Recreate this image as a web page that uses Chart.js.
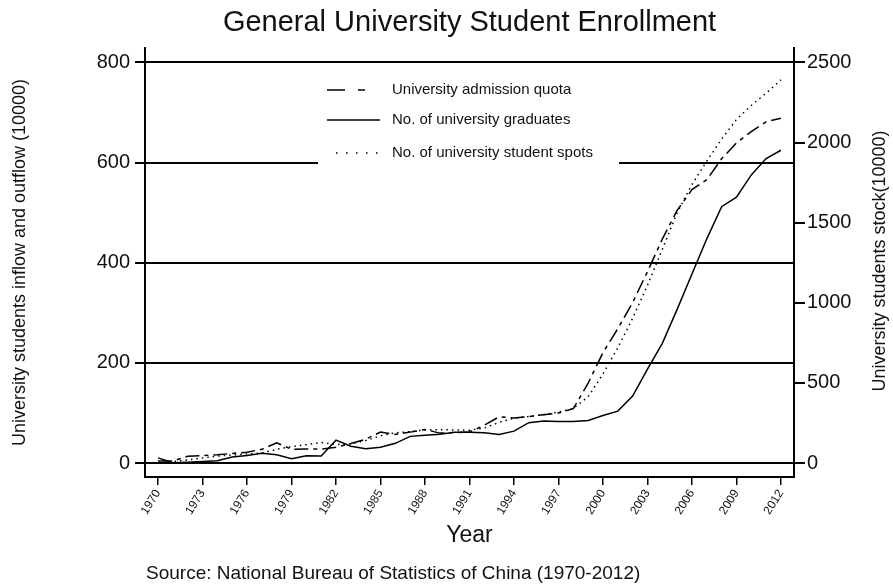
<!DOCTYPE html>
<html>
<head>
<meta charset="utf-8">
<script src="https://cdn.jsdelivr.net/npm/chart.js@4"></script>
<style>
  html, body { margin: 0; padding: 0; background: #fff; }
  #wrap { width: 893px; height: 584px; }
</style>
</head>
<body>
<div id="wrap"><canvas id="myChart" width="893" height="584"></canvas></div>
<script>
// years and values (10000 persons)
const years = [1970, 1971, 1972, 1973, 1974, 1975, 1976, 1977, 1978, 1979,
  1980, 1981, 1982, 1983, 1984, 1985, 1986, 1987, 1988, 1989,
  1990, 1991, 1992, 1993, 1994, 1995, 1996, 1997, 1998, 1999,
  2000, 2001, 2002, 2003, 2004, 2005, 2006, 2007, 2008, 2009,
  2010, 2011, 2012];
const admissionQuota = [4.2, 4.2, 13.4, 15.0, 16.5, 19.1, 21.7, 27.3, 40.2, 27.5,
  28.1, 27.9, 31.5, 39.1, 47.5, 61.9, 57.2, 61.7, 67.0, 59.7,
  60.9, 62.0, 75.4, 92.4, 90.0, 92.6, 96.6, 100.0, 108.4, 159.7,
  220.6, 268.3, 320.5, 382.2, 447.3, 504.5, 546.1, 565.9, 607.7, 639.5,
  661.8, 681.5, 688.8];
const graduates = [10.3, 0.6, 1.7, 3.0, 4.3, 11.9, 14.9, 19.4, 16.5, 8.5,
  14.7, 14.0, 45.7, 33.5, 28.7, 31.6, 39.3, 53.2, 55.3, 57.6,
  61.4, 61.4, 60.4, 57.1, 63.7, 80.5, 83.9, 82.9, 83.0, 84.8,
  95.0, 103.6, 133.7, 187.7, 239.1, 306.8, 377.5, 447.8, 512.0, 531.1,
  575.4, 608.2, 624.7];
const studentSpots = [4.8, 8.3, 19.4, 31.4, 43.0, 50.1, 56.5, 62.5, 85.6, 102.0,
  114.4, 127.9, 115.4, 120.7, 139.6, 170.3, 188.0, 195.9, 206.6, 208.2,
  206.3, 204.4, 218.4, 253.6, 279.9, 290.6, 302.1, 317.4, 340.9, 413.4,
  556.1, 719.1, 903.4, 1108.6, 1333.5, 1561.8, 1738.8, 1884.9, 2021.0, 2144.7,
  2231.8, 2308.5, 2391.3];
const xTicks = [1970, 1973, 1976, 1979, 1982, 1985, 1988, 1991, 1994, 1997, 2000, 2003, 2006, 2009, 2012];
const leftTicks = [0, 200, 400, 600, 800];
const rightTicks = [0, 500, 1000, 1500, 2000, 2500];

const FONT = "'Liberation Sans', Arial, sans-serif";
const pts = (vals) => vals.map((v, i) => ({ x: years[i], y: v }));

// legend inside plot + right axis title + source line
const extras = {
  id: "extras",
  afterDatasetsDraw(chart) {
    const c = chart.ctx;
    c.save();
    c.fillStyle = "#fff";
    c.fillRect(318, 74, 301, 92);
    const rows = [90, 120, 153];
    const dashes = [[18, 13, 7, 20], [], [1.5, 8.5]];
    const starts = [327, 327, 336];
    chart.data.datasets.forEach((ds, i) => {
      c.strokeStyle = "#000";
      c.lineWidth = 1.5;
      c.setLineDash(dashes[i]);
      c.beginPath();
      c.moveTo(starts[i], rows[i]);
      c.lineTo(380, rows[i]);
      c.stroke();
      c.setLineDash([]);
      c.fillStyle = "#111";
      c.font = "15px " + FONT;
      c.textBaseline = "middle";
      c.textAlign = "left";
      c.fillText(ds.label, 392, rows[i]);
    });
    c.restore();
  },
  afterDraw(chart) {
    const c = chart.ctx;
    c.save();
    c.fillStyle = "#111";
    c.font = "18px " + FONT;
    c.translate(880, 261);
    c.rotate(-Math.PI / 2);
    c.textAlign = "center";
    c.textBaseline = "middle";
    c.fillText("University students stock(10000)", 0, 0);
    c.restore();
    c.save();
    c.fillStyle = "#111";
    c.font = "19px " + FONT;
    c.textAlign = "left";
    c.textBaseline = "middle";
    c.fillText("Source: National Bureau of Statistics of China (1970-2012)", 146, 574);
    c.restore();
  }
};

const ctx = document.getElementById("myChart");

const chart = new Chart(ctx, {
  type: "line",
  data: {
    datasets: [
      {
        label: "University admission quota",
        data: pts(admissionQuota),
        yAxisID: "y",
        borderColor: "#000",
        borderWidth: 1.5,
        borderDash: [14, 5, 4, 5],
        pointRadius: 0,
        tension: 0,
      },
      {
        label: "No. of university graduates",
        data: pts(graduates),
        yAxisID: "y",
        borderColor: "#000",
        borderWidth: 1.5,
        pointRadius: 0,
        tension: 0,
      },
      {
        label: "No. of university student spots",
        data: pts(studentSpots),
        yAxisID: "y2",
        borderColor: "#000",
        borderWidth: 1.5,
        borderDash: [1.5, 4],
        pointRadius: 0,
        tension: 0,
      },
    ],
  },
  options: {
    responsive: false,
    animation: false,
    layout: { padding: 0 },
    scales: {
      x: {
        type: "linear",
        min: 1969.12,
        max: 2012.88,
        afterBuildTicks: (s) => { s.ticks = xTicks.map((v) => ({ value: v })); },
        afterFit: (s) => { s.height = 107; },
        grid: { drawOnChartArea: false, color: "#000", lineWidth: 1.5, tickLength: 8 },
        border: { display: true, color: "#000", width: 2 },
        ticks: {
          color: "#111",
          font: { family: FONT, size: 12 },
          minRotation: 58,
          maxRotation: 58,
          padding: 2,
          autoSkip: false,
          callback: (v) => String(v),
        },
        title: {
          display: true,
          text: "Year",
          color: "#111",
          font: { family: FONT, size: 23 },
          padding: { top: 0, bottom: 35 },
        },
      },
      y: {
        position: "left",
        min: -27.96,
        max: 828.96,
        afterBuildTicks: (s) => { s.ticks = leftTicks.map((v) => ({ value: v })); },
        afterFit: (s) => { s.width = 145; },
        grid: { color: "#000", lineWidth: 2, tickLength: 10 },
        border: { display: true, color: "#000", width: 2 },
        ticks: { color: "#111", font: { family: FONT, size: 20 }, padding: 5, callback: (v) => String(v) },
        title: {
          display: true,
          text: "University students inflow and outflow (10000)",
          color: "#111",
          font: { family: FONT, size: 18 },
          padding: { top: 9, bottom: 0 },
        },
      },
      y2: {
        position: "right",
        min: -87.4,
        max: 2590.5,
        afterBuildTicks: (s) => { s.ticks = rightTicks.map((v) => ({ value: v })); },
        afterFit: (s) => { s.width = 99; },
        grid: { drawOnChartArea: false, color: "#000", lineWidth: 2, tickLength: 11 },
        border: { display: true, color: "#000", width: 2 },
        ticks: { color: "#111", font: { family: FONT, size: 20 }, padding: 2, callback: (v) => String(v) },
      },
    },
    plugins: {
      tooltip: { enabled: false },
      legend: { display: false },
      title: {
        display: true,
        fullSize: false,
        text: "General University Student Enrollment",
        color: "#111",
        font: { family: FONT, size: 29, weight: "normal" },
        padding: { top: 6, bottom: 7.2 },
      },
    },
  },
  plugins: [extras],
});
</script>
</body>
</html>
